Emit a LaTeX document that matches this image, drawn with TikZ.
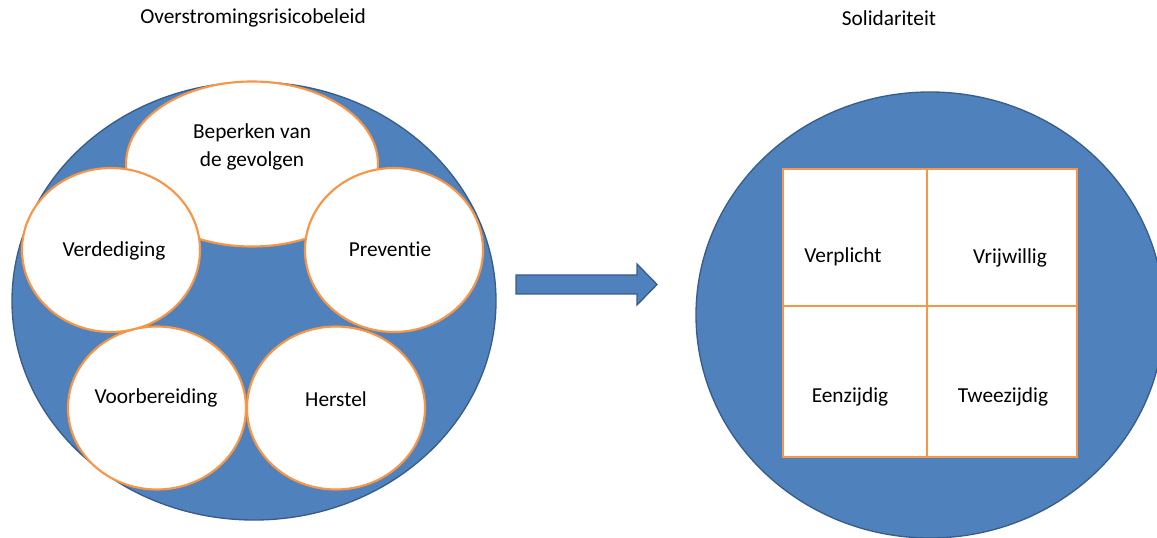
\documentclass[tikz,border=0pt]{standalone}
\usepackage{fontspec}
\setmainfont{Carlito}[Ligatures=NoCommon]
\usepackage{xcolor}
\usetikzlibrary{shapes.geometric}
\definecolor{blauw}{HTML}{4F81BD}
\definecolor{blauwrand}{HTML}{385D8A}
\definecolor{oranje}{HTML}{F79646}

\tikzset{
  schijf/.style={ellipse, draw=blauwrand, line width=1pt, fill=blauw, inner sep=0pt},
  bol/.style={ellipse, draw=oranje, line width=1.6pt, fill=white, inner sep=0pt,
    minimum width=133.5pt, minimum height=123pt},
  vak/.style={rectangle, draw=oranje, line width=1.6pt, fill=white, inner sep=0pt,
    minimum width=110pt},
  tekst/.style={font=\fontsize{16}{21.5}\selectfont, align=center, inner sep=0pt},
}

\begin{document}
\begin{tikzpicture}[x=0.75pt,y=-0.75pt]
  \useasboundingbox (0,0) rectangle (1157,538);
  \clip (0,0) rectangle (1157,538);

  % titels
  \node[tekst] (titelL) at (253,18) {Overstromingsrisicobeleid};
  \node[tekst] (titelR) at (889,18) {Solidariteit};

  % linker schijf met de vijf bollen
  \node[schijf, minimum width=363pt, minimum height=328.5pt] (beleid) at (254,301) {};
  \node[bol, minimum width=189pt, minimum height=123.75pt] (beperken) at (252,164) {};
  \node[bol] (verdediging) at (111,250) {};
  \node[bol] (preventie) at (394,250) {};
  \node[bol, minimum height=122.25pt] (voorbereiding) at (157,408) {};
  \node[bol, minimum height=122.25pt] (herstel) at (336,408) {};

  \node[tekst] (tBeperken) at (252,147) {Beperken van\\de gevolgen};
  \node[tekst] (tVerdediging) at (114,251) {Verdediging};
  \node[tekst] (tPreventie) at (390,249) {Preventie};
  \node[tekst] (tVoorbereiding) at (156,398) {Voorbereiding};
  \node[tekst] (tHerstel) at (336,399) {Herstel};

  % blokpijl
  \filldraw[fill=blauw, draw=blauwrand, line width=1pt, line join=miter]
    (516,275) -- (637,275) -- (637,264) -- (657,284.5) -- (637,305)
    -- (637,294) -- (516,294) -- cycle;

  % rechter schijf met het raster
  \node[schijf, minimum width=351pt, minimum height=334.5pt] (solidariteit) at (930,315) {};
  \node[vak, minimum width=108pt, minimum height=102.75pt] (verplicht) at (855,237.5) {};
  \node[vak, minimum width=112.5pt, minimum height=102.75pt] (vrijwillig) at (1002,237.5) {};
  \node[vak, minimum width=108pt, minimum height=113.25pt] (eenzijdig) at (855,381.5) {};
  \node[vak, minimum width=112.5pt, minimum height=113.25pt] (tweezijdig) at (1002,381.5) {};

  \node[tekst] (tVerplicht) at (843,257) {Verplicht};
  \node[tekst] (tVrijwillig) at (1010,258) {Vrijwillig};
  \node[tekst] (tEenzijdig) at (850,397) {Eenzijdig};
  \node[tekst] (tTweezijdig) at (1003,397) {Tweezijdig};
\end{tikzpicture}
\end{document}
